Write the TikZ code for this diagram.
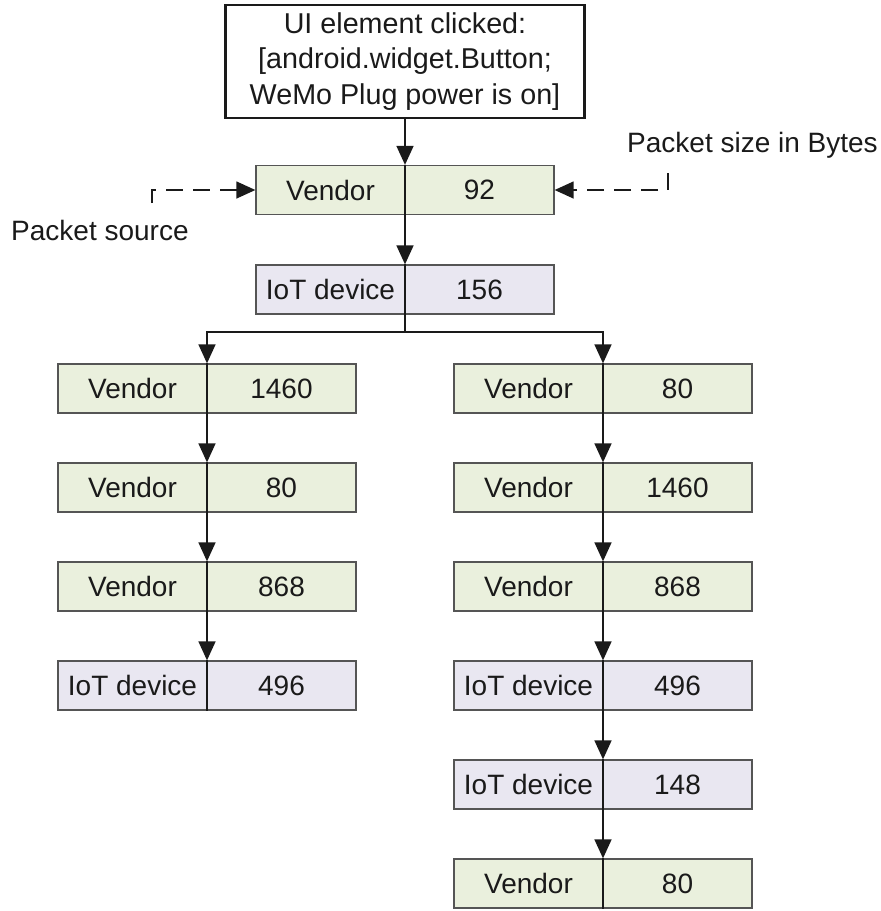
\documentclass[tikz,border=0pt]{standalone}
\usepackage{fontspec}
\setmainfont{Liberation Sans}
\usetikzlibrary{arrows.meta,calc}

\definecolor{vendorfill}{HTML}{EAF0DD}
\definecolor{devicefill}{HTML}{E9E7F1}
\definecolor{boxline}{HTML}{555555}
\definecolor{ink}{HTML}{1A1A1A}

% one packet: source on the left, size on the right, split by a rule
\newcommand\pktpair[5]{%
  \node[#2] (#1) at (#3) {};
  \node[lbl] (#1-src) at ([xshift=-74.5pt]#1.center) {#4};
  \node[lbl] (#1-len) at ([xshift=74.5pt]#1.center) {#5};
  \draw[divider] (#1.north) -- (#1.south);
}

\begin{document}
\begin{tikzpicture}[x=1pt,y=-1pt,
  font=\fontsize{28}{35.5}\selectfont,
  pkt/.style={draw=boxline,line width=1.3pt,minimum width=298pt,minimum height=49pt,inner sep=0pt},
  vendor/.style={pkt,fill=vendorfill},
  device/.style={pkt,fill=devicefill},
  lbl/.style={inner sep=0pt,text=ink},
  flow/.style={draw=ink,line width=1.6pt,-{Triangle[width=17pt,length=19pt]}},
  divider/.style={draw=ink,line width=1.6pt},
  hint/.style={draw=ink,line width=1.4pt,dash pattern=on 17pt off 10pt,-{Triangle[width=17pt,length=19pt]}},
  event/.style={draw=ink,line width=2.5pt,minimum width=359pt,minimum height=113pt,align=center,inner sep=0pt,text=ink,font=\fontsize{28.7}{35.5}\selectfont},
]
\useasboundingbox (0,0) rectangle (881,911);

% triggering UI event
\node[event] (ui) at (405,61.5) {UI element clicked:\\{[}android.widget.Button;\\WeMo Plug power is on]};

% common head of the exchange
\pktpair{b92}{vendor}{405,190}{Vendor}{92}
\pktpair{b156}{device}{405,289.5}{IoT device}{156}

% left branch
\pktpair{L1}{vendor}{207,388.5}{Vendor}{1460}
\pktpair{L2}{vendor}{207,487.5}{Vendor}{80}
\pktpair{L3}{vendor}{207,586.5}{Vendor}{868}
\pktpair{L4}{device}{207,685.5}{IoT device}{496}

% right branch
\pktpair{R1}{vendor}{603,388.5}{Vendor}{80}
\pktpair{R2}{vendor}{603,487.5}{Vendor}{1460}
\pktpair{R3}{vendor}{603,586.5}{Vendor}{868}
\pktpair{R4}{device}{603,685.5}{IoT device}{496}
\pktpair{R5}{device}{603,784.5}{IoT device}{148}
\pktpair{R6}{vendor}{603,883.5}{Vendor}{80}

% annotations
\node[lbl,anchor=base west] (srclabel) at (11,240) {Packet source};
\node[lbl,anchor=base west] (lenlabel) at (627,152) {Packet size in Bytes};
\coordinate (srctail) at (152,203);
\coordinate (srcbend) at (152,190);
\coordinate (lentail) at (668,173);
\coordinate (lenbend) at (668,190);
\draw[hint] (srctail) -- (srcbend) -- (b92.west);
\draw[hint] (lentail) -- (lenbend) -- (b92.east);

% packet flow
\coordinate (split) at (405,332);
\draw[flow] (ui.south) -- (b92.north);
\draw[flow] (b92.south) -- (b156.north);
\draw[flow] (b156.south) -- (split) -| (L1.north);
\draw[flow] (b156.south) -- (split) -| (R1.north);
\draw[flow] (L1.south) -- (L2.north);
\draw[flow] (L2.south) -- (L3.north);
\draw[flow] (L3.south) -- (L4.north);
\draw[flow] (R1.south) -- (R2.north);
\draw[flow] (R2.south) -- (R3.north);
\draw[flow] (R3.south) -- (R4.north);
\draw[flow] (R4.south) -- (R5.north);
\draw[flow] (R5.south) -- (R6.north);
\end{tikzpicture}
\end{document}
